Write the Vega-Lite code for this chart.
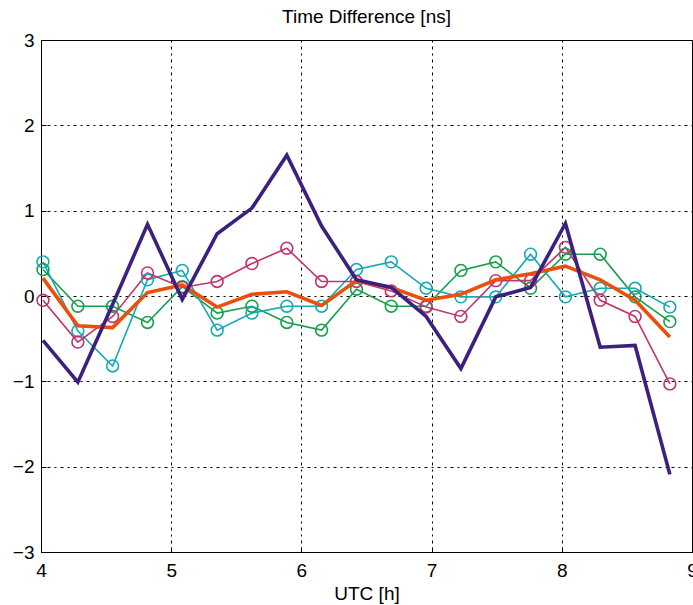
{
  "$schema": "https://vega.github.io/schema/vega-lite/v6.json",
  "width": 651,
  "height": 512,
  "autosize": {"type": "none"},
  "padding": {"left": 41, "top": 40, "right": 1, "bottom": 53},
  "title": {"text": "Time Difference [ns]", "fontSize": 19, "font": "Liberation Sans", "fontWeight": "normal", "color": "#000", "offset": 4},
  "config": {
    "font": "Liberation Sans",
    "view": {"stroke": "#000", "strokeWidth": 1},
    "axis": {
      "domainColor": "#000",
      "tickColor": "#000",
      "labelColor": "#000",
      "titleColor": "#000",
      "labelFont": "Liberation Sans",
      "titleFont": "Liberation Sans",
      "labelFontSize": 19,
      "titleFontSize": 19,
      "titleFontWeight": "normal",
      "gridColor": "#000",
      "gridDash": [2, 4, 3, 4],
      "gridOpacity": 1,
      "gridWidth": 1,
      "tickSize": -5,
      "labelPadding": 14,
      "labelFlush": false
    }
  },
  "data": {"values": [
    {"t": 4.015, "v": 0.31, "s": "A"}, {"t": 4.283, "v": -0.12, "s": "A"}, {"t": 4.550, "v": -0.12, "s": "A"}, {"t": 4.818, "v": -0.31, "s": "A"}, {"t": 5.085, "v": 0.11, "s": "A"}, {"t": 5.353, "v": -0.20, "s": "A"}, {"t": 5.620, "v": -0.12, "s": "A"}, {"t": 5.888, "v": -0.31, "s": "A"}, {"t": 6.155, "v": -0.40, "s": "A"}, {"t": 6.423, "v": 0.08, "s": "A"}, {"t": 6.690, "v": -0.12, "s": "A"}, {"t": 6.958, "v": -0.12, "s": "A"}, {"t": 7.225, "v": 0.30, "s": "A"}, {"t": 7.493, "v": 0.40, "s": "A"}, {"t": 7.760, "v": 0.09, "s": "A"}, {"t": 8.028, "v": 0.49, "s": "A"}, {"t": 8.295, "v": 0.49, "s": "A"}, {"t": 8.563, "v": -0.01, "s": "A"}, {"t": 8.830, "v": -0.30, "s": "A"},
    {"t": 4.015, "v": 0.40, "s": "B"}, {"t": 4.283, "v": -0.41, "s": "B"}, {"t": 4.550, "v": -0.82, "s": "B"}, {"t": 4.818, "v": 0.19, "s": "B"}, {"t": 5.085, "v": 0.30, "s": "B"}, {"t": 5.353, "v": -0.40, "s": "B"}, {"t": 5.620, "v": -0.20, "s": "B"}, {"t": 5.888, "v": -0.12, "s": "B"}, {"t": 6.155, "v": -0.12, "s": "B"}, {"t": 6.423, "v": 0.31, "s": "B"}, {"t": 6.690, "v": 0.40, "s": "B"}, {"t": 6.958, "v": 0.09, "s": "B"}, {"t": 7.225, "v": -0.01, "s": "B"}, {"t": 7.493, "v": -0.01, "s": "B"}, {"t": 7.760, "v": 0.49, "s": "B"}, {"t": 8.028, "v": -0.01, "s": "B"}, {"t": 8.295, "v": 0.09, "s": "B"}, {"t": 8.563, "v": 0.09, "s": "B"}, {"t": 8.830, "v": -0.13, "s": "B"},
    {"t": 4.015, "v": -0.05, "s": "C"}, {"t": 4.283, "v": -0.54, "s": "C"}, {"t": 4.550, "v": -0.24, "s": "C"}, {"t": 4.818, "v": 0.27, "s": "C"}, {"t": 5.085, "v": 0.10, "s": "C"}, {"t": 5.353, "v": 0.17, "s": "C"}, {"t": 5.620, "v": 0.38, "s": "C"}, {"t": 5.888, "v": 0.56, "s": "C"}, {"t": 6.155, "v": 0.17, "s": "C"}, {"t": 6.423, "v": 0.17, "s": "C"}, {"t": 6.690, "v": 0.06, "s": "C"}, {"t": 6.958, "v": -0.13, "s": "C"}, {"t": 7.225, "v": -0.24, "s": "C"}, {"t": 7.493, "v": 0.18, "s": "C"}, {"t": 7.760, "v": 0.18, "s": "C"}, {"t": 8.028, "v": 0.57, "s": "C"}, {"t": 8.295, "v": -0.05, "s": "C"}, {"t": 8.563, "v": -0.24, "s": "C"}, {"t": 8.830, "v": -1.03, "s": "C"},
    {"t": 4.015, "v": 0.21, "s": "D"}, {"t": 4.283, "v": -0.35, "s": "D"}, {"t": 4.550, "v": -0.37, "s": "D"}, {"t": 4.818, "v": 0.04, "s": "D"}, {"t": 5.085, "v": 0.13, "s": "D"}, {"t": 5.353, "v": -0.13, "s": "D"}, {"t": 5.620, "v": 0.02, "s": "D"}, {"t": 5.888, "v": 0.05, "s": "D"}, {"t": 6.155, "v": -0.11, "s": "D"}, {"t": 6.423, "v": 0.18, "s": "D"}, {"t": 6.690, "v": 0.10, "s": "D"}, {"t": 6.958, "v": -0.05, "s": "D"}, {"t": 7.225, "v": 0.02, "s": "D"}, {"t": 7.493, "v": 0.19, "s": "D"}, {"t": 7.760, "v": 0.26, "s": "D"}, {"t": 8.028, "v": 0.35, "s": "D"}, {"t": 8.295, "v": 0.19, "s": "D"}, {"t": 8.563, "v": -0.05, "s": "D"}, {"t": 8.830, "v": -0.48, "s": "D"},
    {"t": 4.015, "v": -0.52, "s": "E"}, {"t": 4.283, "v": -1.01, "s": "E"}, {"t": 4.550, "v": -0.10, "s": "E"}, {"t": 4.818, "v": 0.84, "s": "E"}, {"t": 5.085, "v": -0.04, "s": "E"}, {"t": 5.353, "v": 0.73, "s": "E"}, {"t": 5.620, "v": 1.03, "s": "E"}, {"t": 5.888, "v": 1.65, "s": "E"}, {"t": 6.155, "v": 0.82, "s": "E"}, {"t": 6.423, "v": 0.19, "s": "E"}, {"t": 6.690, "v": 0.10, "s": "E"}, {"t": 6.958, "v": -0.24, "s": "E"}, {"t": 7.225, "v": -0.85, "s": "E"}, {"t": 7.493, "v": -0.01, "s": "E"}, {"t": 7.760, "v": 0.10, "s": "E"}, {"t": 8.028, "v": 0.85, "s": "E"}, {"t": 8.295, "v": -0.60, "s": "E"}, {"t": 8.563, "v": -0.58, "s": "E"}, {"t": 8.830, "v": -2.09, "s": "E"}
  ]},
  "encoding": {
    "x": {"field": "t", "type": "quantitative", "scale": {"domain": [4, 9], "nice": false, "zero": false}, "axis": {"values": [4, 5, 6, 7, 8, 9], "title": "UTC [h]", "titlePadding": 4}},
    "y": {"field": "v", "type": "quantitative", "scale": {"domain": [-3, 3], "nice": false}, "axis": {"values": [-3, -2, -1, 0, 1, 2, 3], "title": null, "labelPadding": 12}},
    "color": {"field": "s", "type": "nominal", "scale": {"domain": ["A", "B", "C", "D", "E"], "range": ["#17a04c", "#18a8b4", "#c2336f", "#ea500c", "#3b2080"]}, "legend": null}
  },
  "layer": [
    {"transform": [{"filter": "datum.s == 'A' || datum.s == 'B' || datum.s == 'C'"}], "mark": {"type": "line", "strokeWidth": 1.6, "point": {"filled": false, "size": 140, "strokeWidth": 1.6}}},
    {"transform": [{"filter": "datum.s == 'D' || datum.s == 'E'"}], "mark": {"type": "line", "strokeWidth": 3.6}}
  ]
}
